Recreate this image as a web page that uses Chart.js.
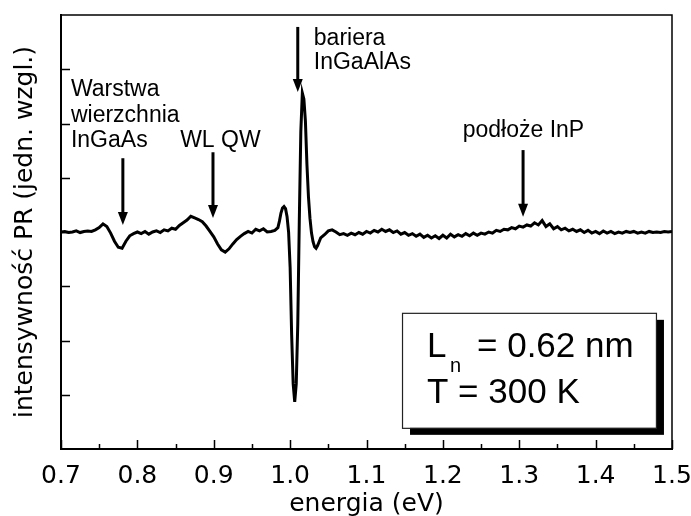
<!DOCTYPE html>
<html>
<head>
<meta charset="utf-8">
<script src="https://cdn.jsdelivr.net/npm/chart.js@4/dist/chart.umd.min.js"></script>
<style>
  html, body { margin: 0; padding: 0; background: #fff; }
  canvas { display: block; }
</style>
</head>
<body>
<canvas id="prChart" width="691" height="516"></canvas>
<script>
// PR spectrum, photon energy in eV vs signal in arbitrary units
var energy = [
  0.700, 0.705, 0.710, 0.715, 0.720, 0.725, 0.730, 0.735, 0.740, 0.745,
  0.750, 0.755, 0.760, 0.765, 0.770, 0.775, 0.780, 0.785, 0.790, 0.795,
  0.800, 0.805, 0.810, 0.815, 0.820, 0.825, 0.830, 0.835, 0.840, 0.845,
  0.850, 0.855, 0.860, 0.865, 0.870, 0.875, 0.880, 0.885, 0.890, 0.895,
  0.900, 0.905, 0.910, 0.915, 0.920, 0.925, 0.930, 0.935, 0.940, 0.945,
  0.950, 0.955, 0.960, 0.965, 0.970, 0.975, 0.980,
  0.984, 0.986, 0.988, 0.990, 0.992, 0.994, 0.996, 0.998, 1.000, 1.002,
  1.004, 1.006, 1.008, 1.010, 1.012, 1.014, 1.016, 1.018, 1.020, 1.022,
  1.024, 1.026, 1.028, 1.030, 1.032, 1.034, 1.036, 1.038, 1.040,
  1.045, 1.050, 1.055, 1.060, 1.065, 1.070, 1.075, 1.080, 1.085, 1.090,
  1.095, 1.100, 1.105, 1.110, 1.115, 1.120, 1.125, 1.130, 1.135, 1.140,
  1.145, 1.150, 1.155, 1.160, 1.165, 1.170, 1.175, 1.180, 1.185, 1.190,
  1.195, 1.200, 1.205, 1.210, 1.215, 1.220, 1.225, 1.230, 1.235, 1.240,
  1.245, 1.250, 1.255, 1.260, 1.265, 1.270, 1.275, 1.280, 1.285, 1.290,
  1.295, 1.300, 1.305, 1.310, 1.315, 1.320, 1.325, 1.330, 1.335, 1.340,
  1.345, 1.350, 1.355, 1.360, 1.365, 1.370, 1.375, 1.380, 1.385, 1.390,
  1.395, 1.400, 1.405, 1.410, 1.415, 1.420, 1.425, 1.430, 1.435, 1.440,
  1.445, 1.450, 1.455, 1.460, 1.465, 1.470, 1.475, 1.480, 1.485, 1.490,
  1.495, 1.500
];

var signal = [
  0.00, 0.01, -0.01, 0.00, 0.02, -0.01, 0.01, 0.02, 0.01, 0.04,
  0.08, 0.15, 0.10, -0.02, -0.17, -0.28, -0.30, -0.17, -0.07, -0.03,
  0.00, -0.03, 0.01, -0.04, 0.00, 0.02, -0.01, 0.04, 0.02, 0.07,
  0.05, 0.12, 0.17, 0.22, 0.29, 0.26, 0.23, 0.19, 0.11, 0.01,
  -0.09, -0.22, -0.33, -0.37, -0.31, -0.22, -0.14, -0.08, -0.03, 0.01,
  -0.02, 0.05, 0.02, 0.06, 0.00, 0.01, 0.03,
  0.08, 0.20, 0.35, 0.44, 0.47, 0.43, 0.28, 0.00, -0.65, -1.90,
  -2.80, -3.13, -2.80, -1.70, 0.20, 1.85, 2.56, 2.45, 2.05, 1.25,
  0.65, 0.25, -0.02, -0.18, -0.27, -0.30, -0.25, -0.18, -0.11,
  -0.05, 0.02, 0.04, 0.00, -0.05, -0.03, -0.06, -0.02, -0.05, -0.01,
  -0.04, 0.01, -0.02, 0.03, 0.00, 0.05, 0.01, 0.04, -0.01, 0.02,
  -0.04, -0.01, -0.06, -0.03, -0.08, -0.04, -0.10, -0.06, -0.11, -0.07,
  -0.12, -0.06, -0.11, -0.04, -0.09, -0.05, -0.08, -0.03, -0.07, -0.02,
  -0.06, -0.02, -0.04, 0.00, -0.02, 0.03, 0.01, 0.05, 0.04, 0.08,
  0.06, 0.11, 0.09, 0.13, 0.11, 0.17, 0.13, 0.21, 0.10, 0.15,
  0.06, 0.10, 0.04, 0.07, 0.02, 0.05, 0.01, 0.04, -0.01, 0.03,
  -0.02, 0.01, -0.03, 0.02, -0.02, 0.01, -0.03, 0.00, -0.02, 0.01,
  -0.01, 0.01, -0.02, 0.00, -0.02, 0.01, -0.01, 0.00, -0.01, 0.01,
  0.00, 0.01
];

var xTickValues = [0.7, 0.8, 0.9, 1.0, 1.1, 1.2, 1.3, 1.4, 1.5];
var xMinorTicks = [0.75, 0.85, 0.95, 1.05, 1.15, 1.25, 1.35, 1.45];
var yTickValues = [-3, -2, -1, 0, 1, 2, 3];

// labelled arrows: x = energy, from/to = signal level
var arrows = [
  { x: 0.781, from: 1.36, to: 0.13 },
  { x: 0.899, from: 1.47, to: 0.26 },
  { x: 1.010, from: 3.78, to: 2.58 },
  { x: 1.305, from: 1.51, to: 0.28 }
];

var notes = [
  { x: 0.713, y: 2.51, text: 'Warstwa' },
  { x: 0.713, y: 2.03, text: 'wierzchnia' },
  { x: 0.713, y: 1.57, text: 'InGaAs' },
  { x: 0.856, y: 1.57, text: 'WL QW' },
  { x: 1.031, y: 3.45, text: 'bariera' },
  { x: 1.031, y: 3.00, text: 'InGaAlAs' },
  { x: 1.226, y: 1.75, text: 'podłoże InP' }
];

var FONT = '"Liberation Sans", Arial, Helvetica, sans-serif';
var AXIS_FONT = '"DejaVu Sans", Verdana, sans-serif';

var decorations = {
  id: 'decorations',
  afterDatasetsDraw: function (chart) {
    var ctx = chart.ctx;
    var area = chart.chartArea;
    var xs = chart.scales.x;
    var ys = chart.scales.y;
    ctx.save();

    // top and right frame
    ctx.strokeStyle = '#000';
    ctx.lineWidth = 1.5;
    ctx.beginPath();
    ctx.moveTo(area.left, area.top);
    ctx.lineTo(area.right, area.top);
    ctx.lineTo(area.right, area.bottom);
    ctx.stroke();

    // inward ticks
    ctx.lineWidth = 1.5;
    ctx.beginPath();
    xTickValues.forEach(function (v) {
      var px = Math.round(xs.getPixelForValue(v)) + 0.5;
      ctx.moveTo(px, area.bottom);
      ctx.lineTo(px, area.bottom - 9);
    });
    xMinorTicks.forEach(function (v) {
      var px = Math.round(xs.getPixelForValue(v)) + 0.5;
      ctx.moveTo(px, area.bottom);
      ctx.lineTo(px, area.bottom - 5);
    });
    yTickValues.forEach(function (v) {
      var py = Math.round(ys.getPixelForValue(v)) + 0.5;
      ctx.moveTo(area.left, py);
      ctx.lineTo(area.left + 9, py);
    });
    ctx.stroke();

    // arrows
    ctx.fillStyle = '#000';
    arrows.forEach(function (a) {
      var px = xs.getPixelForValue(a.x);
      var y0 = ys.getPixelForValue(a.from);
      var y1 = ys.getPixelForValue(a.to);
      ctx.lineWidth = 3;
      ctx.beginPath();
      ctx.moveTo(px, y0);
      ctx.lineTo(px, y1 - 10);
      ctx.stroke();
      ctx.beginPath();
      ctx.moveTo(px - 5, y1 - 13);
      ctx.lineTo(px + 5, y1 - 13);
      ctx.lineTo(px, y1);
      ctx.closePath();
      ctx.fill();
    });

    // text labels
    ctx.font = '23px ' + FONT;
    ctx.textAlign = 'left';
    ctx.textBaseline = 'alphabetic';
    notes.forEach(function (n) {
      ctx.fillText(n.text, xs.getPixelForValue(n.x), ys.getPixelForValue(n.y));
    });

    // parameter box with drop shadow
    var bx = xs.getPixelForValue(1.1465);
    var bx2 = xs.getPixelForValue(1.479);
    var by = ys.getPixelForValue(-1.49);
    var by2 = ys.getPixelForValue(-3.61);
    ctx.fillStyle = '#000';
    ctx.fillRect(bx + 8, by + 7, bx2 - bx, by2 - by);
    ctx.fillStyle = '#fff';
    ctx.fillRect(bx, by, bx2 - bx, by2 - by);
    ctx.strokeStyle = '#222';
    ctx.lineWidth = 1.2;
    ctx.strokeRect(bx + 0.5, by + 0.5, bx2 - bx, by2 - by);

    ctx.fillStyle = '#000';
    ctx.font = '35px ' + FONT;
    ctx.fillText('L', bx + 25, by + 44);
    ctx.fillText('= 0.62 nm', bx + 75, by + 44);
    ctx.fillText('T = 300 K', bx + 25, by + 90);
    ctx.font = '20px ' + FONT;
    ctx.fillText('n', bx + 48, by + 59);

    ctx.restore();
  }
};

new Chart(document.getElementById('prChart'), {
  type: 'line',
  data: {
    labels: energy,
    datasets: [{
      label: 'PR',
      data: energy.map(function (e, i) { return { x: e, y: signal[i] }; }),
      borderColor: '#000',
      borderWidth: 3,
      pointRadius: 0,
      tension: 0,
      fill: false
    }]
  },
  options: {
    responsive: false,
    animation: false,
    layout: { padding: { top: 15, right: 19, left: 0, bottom: 0 } },
    plugins: {
      legend: { display: false },
      tooltip: { enabled: false }
    },
    scales: {
      x: {
        type: 'linear',
        min: 0.7,
        max: 1.5,
        afterFit: function (scale) {
          scale.height = 67;
          // let the end labels overhang the frame
          scale.paddingLeft = 0;
          scale.paddingRight = 0;
        },
        afterBuildTicks: function (scale) {
          scale.ticks = xTickValues.map(function (v) { return { value: v }; });
        },
        grid: { display: false, drawTicks: false },
        border: { display: true, color: '#000', width: 2 },
        ticks: {
          color: '#000',
          padding: 12,
          maxRotation: 0,
          autoSkip: false,
          font: { family: AXIS_FONT, size: 25 },
          callback: function (v) { return Number(v).toFixed(1); }
        },
        title: {
          display: true,
          text: 'energia (eV)',
          color: '#000',
          padding: 0,
          font: { family: AXIS_FONT, size: 25, lineHeight: 0.9 }
        }
      },
      y: {
        type: 'linear',
        min: -4,
        max: 4,
        afterFit: function (scale) { scale.width = 61; },
        grid: { display: false, drawTicks: false },
        border: { display: true, color: '#000', width: 2 },
        ticks: { display: false },
        title: {
          display: true,
          text: 'intensywność PR (jedn. wzgl.)',
          color: '#000',
          padding: { top: 10, bottom: 0 },
          font: { family: AXIS_FONT, size: 25, lineHeight: 1.2 }
        }
      }
    }
  },
  plugins: [decorations]
});
</script>
</body>
</html>
